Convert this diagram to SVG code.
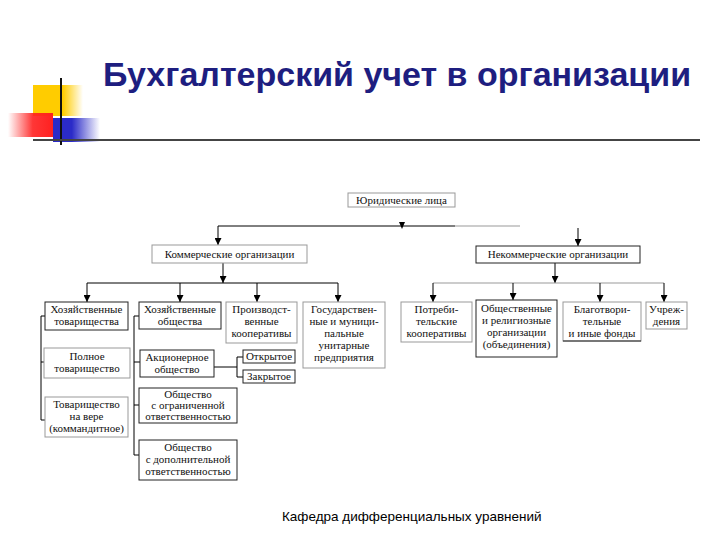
<svg xmlns="http://www.w3.org/2000/svg" width="720" height="540" viewBox="0 0 720 540">
<defs>
<linearGradient id="gy" x1="0" y1="0" x2="1" y2="0"><stop offset="0" stop-color="#FFCC00"/><stop offset="0.6" stop-color="#FFCC00"/><stop offset="1" stop-color="#FFCC00" stop-opacity="0"/></linearGradient>
<linearGradient id="gr" x1="0" y1="0" x2="1" y2="0"><stop offset="0" stop-color="#FF2020" stop-opacity="0"/><stop offset="0.55" stop-color="#FF2020" stop-opacity="0.9"/><stop offset="1" stop-color="#FF2020"/></linearGradient>
<linearGradient id="gb" x1="0" y1="0" x2="1" y2="0"><stop offset="0" stop-color="#2B2BC8"/><stop offset="0.4" stop-color="#2B2BC8"/><stop offset="1" stop-color="#2B2BC8" stop-opacity="0"/></linearGradient>
<marker id="ah" viewBox="0 0 8 8" refX="8" refY="4" markerWidth="7" markerHeight="7" orient="auto" markerUnits="userSpaceOnUse"><path d="M0,0 L8,4 L0,8 z" fill="#000"/></marker>
</defs>
<style>
.title{font-family:"Liberation Sans",Arial,sans-serif;font-weight:bold;font-size:34px;fill:#1E1E80}
.foot{font-family:"Liberation Sans",Arial,sans-serif;font-size:13.5px;fill:#000}
.t{font-family:"Liberation Serif","Times New Roman",serif;font-size:11px;fill:#111;text-anchor:middle}
.bd{fill:#fff;stroke:#222;stroke-width:1}
.bl{fill:#fff;stroke:#999;stroke-width:1}
.c{fill:none;stroke:#000;stroke-width:1}
.cl{fill:none;stroke:#999;stroke-width:1}
.a{marker-end:url(#ah)}
</style>
<rect width="720" height="540" fill="#fff"/>
<g id="decor">
<rect x="33" y="85" width="50" height="31" fill="url(#gy)"/>
<rect x="8" y="113" width="45" height="24" fill="url(#gr)"/>
<rect x="53" y="118" width="47" height="24" fill="url(#gb)"/>
<line x1="61" y1="78" x2="61" y2="145" stroke="#111" stroke-width="2"/>
<line x1="33" y1="140" x2="700" y2="140" stroke="#444" stroke-width="2"/>
</g>
<text class="title" x="103" y="86">Бухгалтерский учет в организации</text>
<g id="connectors">
<line class="c" x1="218" y1="226" x2="455" y2="226"/>
<line class="cl" x1="455" y1="226" x2="520" y2="226"/>
<polygon points="399,222 405,222 402,229" fill="#000"/>
<line class="c a" x1="218" y1="226" x2="218" y2="245"/>
<line class="c a" x1="578" y1="228" x2="578" y2="246"/>
<line class="c a" x1="223" y1="263" x2="223" y2="283"/>
<line class="c" x1="87" y1="283" x2="338" y2="283"/>
<line class="c a" x1="87" y1="283" x2="87" y2="302"/>
<line class="c a" x1="180" y1="283" x2="180" y2="302"/>
<line class="c a" x1="257" y1="283" x2="257" y2="302"/>
<line class="c a" x1="338" y1="283" x2="338" y2="302"/>
<line class="c a" x1="555" y1="263" x2="555" y2="283"/>
<line class="cl" x1="433" y1="283" x2="664" y2="283"/>
<line class="c a" x1="433" y1="283" x2="433" y2="302"/>
<line class="c a" x1="513" y1="283" x2="513" y2="300"/>
<line class="c a" x1="600" y1="283" x2="600" y2="302"/>
<line class="c a" x1="664" y1="283" x2="664" y2="302"/>
<path class="c" d="M45,316 H41 V420 H45 M41,362 H45"/>
<path class="c" d="M139,316 H134 V455 H139 M134,362 H140 M134,405 H139"/>
<path class="c" d="M214,367 H237 M243,357 H237 V377 H243"/>
</g>
<g id="n-yur"><rect class="bl" x="348" y="193" width="107" height="14"/><text class="t" x="401.5" y="204">Юридические лица</text></g>
<g id="n-kom"><rect class="bl" x="152" y="245" width="155" height="18"/><text class="t" x="229.5" y="258">Коммерческие организации</text></g>
<g id="n-nekom"><rect class="bd" x="476" y="246" width="164" height="17"/><text class="t" x="558" y="258">Некоммерческие организации</text></g>
<g id="n-hozt"><rect class="bd" x="45" y="302" width="83" height="28"/><text class="t" x="86.5" y="313">Хозяйственные</text><text class="t" x="86.5" y="325">товарищества</text></g>
<g id="n-hozo"><rect class="bd" x="139" y="302" width="82" height="27"/><text class="t" x="180" y="313">Хозяйственные</text><text class="t" x="180" y="325">общества</text></g>
<g id="n-proizv"><rect class="bl" x="226" y="302" width="71" height="41"/><text class="t" x="261.5" y="313">Производст-</text><text class="t" x="261.5" y="325">венные</text><text class="t" x="261.5" y="337">кооперативы</text></g>
<g id="n-gos"><rect class="bl" x="303" y="302" width="82" height="66"/><text class="t" x="344" y="313">Государствен-</text><text class="t" x="344" y="325">ные и муници-</text><text class="t" x="344" y="337">пальные</text><text class="t" x="344" y="349">унитарные</text><text class="t" x="344" y="361">предприятия</text></g>
<g id="n-poln"><rect class="bl" x="44" y="348" width="86" height="30"/><text class="t" x="87" y="360">Полное</text><text class="t" x="87" y="372">товарищество</text></g>
<g id="n-akc"><rect class="bd" x="140" y="350" width="74" height="27"/><text class="t" x="177" y="361">Акционерное</text><text class="t" x="177" y="373">общество</text></g>
<g id="n-otkr"><rect class="bd" x="243" y="350" width="52" height="13"/><text class="t" x="269" y="360">Открытое</text></g>
<g id="n-zakr"><rect class="bd" x="243" y="370" width="52" height="13"/><text class="t" x="269" y="380">Закрытое</text></g>
<g id="n-tnv"><rect class="bl" x="45" y="397" width="83" height="40"/><text class="t" x="86.5" y="408">Товарищество</text><text class="t" x="86.5" y="420">на вере</text><text class="t" x="86.5" y="432">(коммандитное)</text></g>
<g id="n-ooo"><rect class="bd" x="139" y="388" width="98" height="35"/><text class="t" x="188" y="398">Общество</text><text class="t" x="188" y="409">с ограниченной</text><text class="t" x="188" y="420">ответственностью</text></g>
<g id="n-odo"><rect class="bd" x="139" y="440" width="98" height="40"/><text class="t" x="188" y="451">Общество</text><text class="t" x="188" y="463">с дополнительной</text><text class="t" x="188" y="475">ответственностью</text></g>
<g id="n-potr"><rect class="bl" x="401" y="302" width="71" height="40"/><text class="t" x="436.5" y="313">Потреби-</text><text class="t" x="436.5" y="325">тельские</text><text class="t" x="436.5" y="337">кооперативы</text></g>
<g id="n-obsh"><rect class="bd" x="476" y="300" width="81" height="57"/><text class="t" x="516.5" y="312">Общественные</text><text class="t" x="516.5" y="324">и религиозные</text><text class="t" x="516.5" y="336">организации</text><text class="t" x="516.5" y="348">(объединения)</text></g>
<g id="n-blag"><rect class="bl" x="563" y="302" width="78" height="39"/><line x1="563" y1="341" x2="641" y2="341" stroke="#222"/><text class="t" x="602" y="313">Благотвори-</text><text class="t" x="602" y="325">тельные</text><text class="t" x="602" y="337">и иные фонды</text></g>
<g id="n-uchr"><rect class="bl" x="646" y="302" width="41" height="27"/><text class="t" x="666.5" y="313">Учреж-</text><text class="t" x="666.5" y="325">дения</text></g>
<text class="foot" x="282" y="521">Кафедра дифференциальных уравнений</text>
</svg>
